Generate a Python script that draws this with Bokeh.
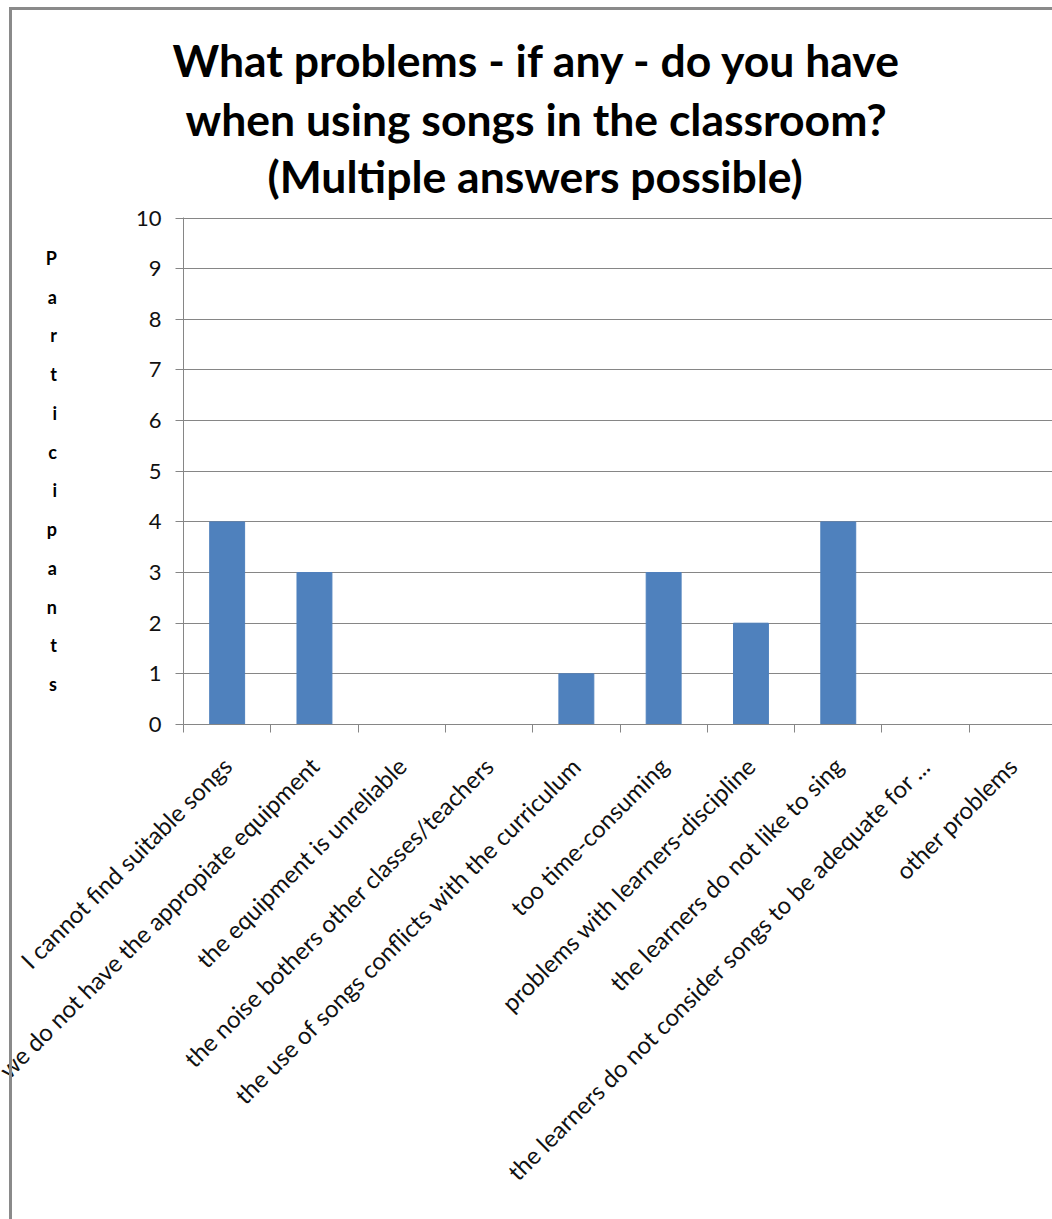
from math import pi

from bokeh.embed import file_html
from bokeh.models import FixedTicker, InlineStyleSheet, Range1d, Title
from bokeh.plotting import figure
from bokeh.resources import INLINE

# Survey answers: how many participants named each problem
categories = [
    "I cannot find suitable songs",
    "we do not have the appropiate equipment",
    "the equipment is unreliable",
    "the noise bothers other classes/teachers",
    "the use of songs conflicts with the curriculum",
    "too time-consuming",
    "problems with learners-discipline",
    "the learners do not like to sing",
    "the learners do not consider songs to be adequate for ...",
    "other problems",
]
participants = [4, 3, 0, 0, 1, 3, 2, 4, 0, 0]
y_ticks = [0, 1, 2, 3, 4, 5, 6, 7, 8, 9, 10]
title_lines = [
    "What problems - if any - do you have",
    "when using songs in the classroom?",
    "(Multiple answers possible)",
]
y_title = "Participants"

FONT = "Lato"
GRID = "#868686"
BAR = "#4F81BD"

centers = [i + 0.5 for i in range(len(categories))]
boundaries = list(range(len(categories) + 1))

p = figure(
    width=1052, height=1219,
    x_range=Range1d(0, 9.954), y_range=Range1d(0, 10.01),
    output_backend="svg", toolbar_location=None, title_location=None,
    min_border_left=183, min_border_right=0,
    min_border_top=217, min_border_bottom=495,
    outline_line_color=None, background_fill_color="white",
    border_fill_color="white",
)

p.vbar(x=centers, top=participants, width=0.4, fill_color=BAR,
       line_color=BAR, line_width=1)

# Title: one Title per line, stacked upward from the plot area.
# (horizontal offset, standoff, vertical alignment) for each line, top to bottom
title_place = [(-11, 27, "bottom"), (2, -20, "bottom"), (84, 28, "top")]
for line, (off, stand, valign) in reversed(list(zip(title_lines, title_place))):
    p.add_layout(Title(
        text=line, align="left", offset=off, standoff=stand,
        vertical_align=valign, text_font=FONT, text_font_style="bold",
        text_font_size="44.5px", text_color="#000000",
    ), "above")

# Value axis
p.yaxis.ticker = FixedTicker(ticks=y_ticks, minor_ticks=[])
p.yaxis.axis_line_color = GRID
p.yaxis.major_tick_line_color = GRID
p.yaxis.major_tick_in = 0
p.yaxis.major_tick_out = 8
p.yaxis.minor_tick_line_color = None
p.yaxis.major_label_standoff = 14
p.yaxis.major_label_text_font = FONT
p.yaxis.major_label_text_font_size = "22px"
p.yaxis.major_label_text_color = "#111111"
p.yaxis.axis_label = "\n".join(y_title)
p.yaxis.axis_label_orientation = "horizontal"
p.yaxis.axis_label_standoff = 76
p.yaxis.axis_label_text_font = FONT
p.yaxis.axis_label_text_font_style = "bold"
p.yaxis.axis_label_text_font_size = "18px"
p.yaxis.axis_label_text_line_height = 1.76
p.yaxis.axis_label_text_color = "#000000"

# Category axis: names under the bars, ticks on the boundaries
p.xaxis.ticker = FixedTicker(ticks=centers, minor_ticks=boundaries)
p.xaxis.major_label_overrides = {c: name for c, name in zip(centers, categories)}
p.xaxis.major_label_orientation = pi / 4
p.xaxis.major_label_standoff = 29
p.xaxis.major_label_text_font = FONT
p.xaxis.major_label_text_font_size = "24px"
p.xaxis.major_label_text_color = "#111111"
p.xaxis.axis_line_color = GRID
p.xaxis.major_tick_in = 0
p.xaxis.major_tick_out = 0
p.xaxis.minor_tick_line_color = GRID
p.xaxis.minor_tick_in = 0
p.xaxis.minor_tick_out = 8

p.xgrid.grid_line_color = None
p.ygrid.ticker = FixedTicker(ticks=y_ticks, minor_ticks=[])
p.ygrid.grid_line_color = GRID
p.ygrid.grid_line_width = 1

# Chart border along the top and left edges
p.stylesheets = [InlineStyleSheet(css="""
:host { position: relative; }
:host::after {
  content: ""; position: absolute; left: 9px; top: 7px; right: 0; bottom: 0;
  border-left: 3px solid #8a8a8a; border-top: 3px solid #8a8a8a;
  pointer-events: none;
}
""")]

open("out.html", "w").write(file_html(p, INLINE))
